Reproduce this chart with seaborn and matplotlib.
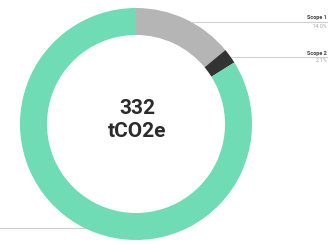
import numpy as np
import seaborn as sns
from matplotlib import pyplot as plt

# data
scopes = ["Scope 1", "Scope 2", "Scope 3"]
shares = [14.0, 2.1, 83.9]
colors = ["#b5b5b5", "#333333", "#6fdcb6"]
total_label = "332\ntCO2e"

sns.set_theme(style="white")
plt.rcParams['font.family'] = ['Roboto', 'DejaVu Sans']

fig = plt.figure(figsize=(3.28, 2.44), dpi=100)
ax = fig.add_axes([0, 0, 1, 1])

# donut, drawn in pixel-like units
cx, cy, r_out, ring = 136, 120, 116, 27
ax.pie(shares, colors=colors, startangle=90, counterclock=False,
       center=(cx, cy), radius=r_out,
       wedgeprops=dict(width=ring, edgecolor='none', linewidth=0))
ax.set_xlim(0, 328)
ax.set_ylim(0, 244)
ax.set_aspect('equal')
ax.axis('off')

ax.text(cx + 1, cy + 4, total_label, ha='center', va='center',
        fontsize=15, fontweight='bold', color='#2b2b2b', linespacing=1.3)

# labels with leader lines (right side for scope 1/2, left for scope 3)
label_y = [222, 187, 16]
for name, val, ly, side in zip(scopes, shares, label_y, [1, 1, -1]):
    dx = np.sqrt(max(r_out**2 - (ly - cy)**2, 0))
    if side > 0:
        ax.plot([cx + dx, 328], [ly, ly], color='#d0d0d0', lw=0.8)
        ax.text(327, ly + 1.5, name, fontsize=4, fontweight='bold',
                color='#444444', va='bottom', ha='right')
        ax.text(327, ly - 1.5, f"{val:.1f}%", fontsize=4,
                color='#aaaaaa', va='top', ha='right')
    else:
        ax.plot([0, cx - dx], [ly, ly], color='#d0d0d0', lw=0.8)

fig.savefig('out.png', dpi=100)
